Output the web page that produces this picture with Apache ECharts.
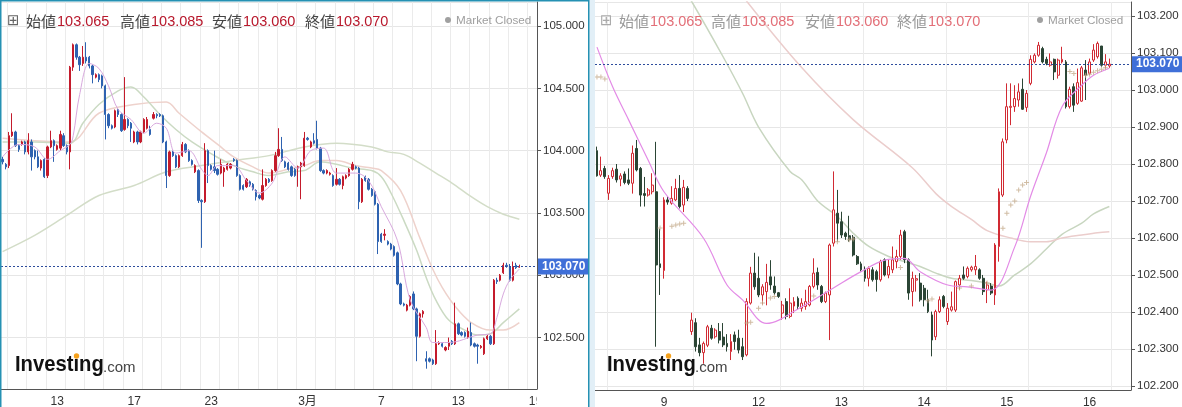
<!DOCTYPE html>
<html><head><meta charset="utf-8">
<script src="https://cdn.jsdelivr.net/npm/echarts/dist/echarts.min.js"></script>
<style>html,body{margin:0;padding:0;background:#fff}#c{width:1182px;height:407px}</style>
</head><body><div id="c"></div><script>
// ---------- DATA ----------
// candles: [open, close, low, high]
const leftCandles = [
[103.93,103.91,103.89,103.95],[103.89,103.87,103.85,103.90],[103.88,104.12,103.86,104.15],[104.12,104.15,104.11,104.30],
[104.15,104.04,104.03,104.16],[104.04,104.01,103.99,104.05],[104.05,104.07,104.04,104.08],[104.07,103.99,103.97,104.08],
[103.99,104.08,103.97,104.14],[104.07,103.95,103.84,104.09],[104.00,103.95,103.93,104.01],[103.95,103.87,103.86,104.00],
[103.86,103.92,103.84,103.93],[103.93,103.79,103.78,103.94],[103.80,104.03,103.78,104.04],[104.03,104.08,104.02,104.16],
[104.08,104.04,103.91,104.09],[104.01,104.04,104.00,104.05],[104.02,104.13,104.00,104.16],[104.12,104.04,104.03,104.14],
[104.04,103.99,103.97,104.05],[103.99,104.67,103.85,104.68],[104.67,104.85,104.64,104.86],[104.85,104.75,104.73,104.86],
[104.75,104.69,104.64,104.76],[104.70,104.75,104.68,104.84],[104.75,104.72,104.70,104.87],[104.75,104.68,104.66,104.76],
[104.68,104.61,104.54,104.69],[104.59,104.61,104.58,104.62],[104.61,104.57,104.55,104.62],[104.60,104.52,104.50,104.61],
[104.52,104.29,104.09,104.53],[104.29,104.20,104.18,104.30],[104.20,104.18,104.17,104.21],[104.19,104.32,104.18,104.33],
[104.33,104.29,104.27,104.34],[104.29,104.16,104.15,104.30],[104.17,104.25,104.16,104.59],[104.25,104.20,104.18,104.26],
[104.22,104.18,104.07,104.23],[104.07,104.15,104.06,104.16],[104.15,104.07,104.05,104.16],[104.07,104.15,104.06,104.16],
[104.15,104.25,104.14,104.26],[104.18,104.25,104.17,104.27],[104.17,104.13,104.12,104.20],[104.26,104.29,104.25,104.31],
[104.29,104.28,104.26,104.30],[104.29,104.28,104.27,104.30],[104.28,104.07,104.06,104.29],[104.07,103.80,103.70,104.08],
[103.80,103.99,103.79,104.00],[103.99,103.96,103.95,104.00],[103.96,103.87,103.86,103.97],[103.87,103.96,103.86,103.97],
[103.96,104.05,103.95,104.07],[104.05,103.99,103.98,104.06],[104.00,103.92,103.91,104.01],[103.92,103.89,103.88,103.93],
[103.83,103.88,103.82,103.89],[103.84,103.60,103.58,103.85],[103.60,103.59,103.22,103.61],[103.59,104.00,103.58,104.06],
[104.00,103.88,103.74,104.01],[103.88,103.85,103.84,103.89],[103.87,103.84,103.82,104.00],[103.85,103.81,103.80,103.86],
[103.82,103.89,103.81,103.93],[103.83,103.86,103.71,103.87],[103.85,103.89,103.84,103.90],[103.86,103.89,103.85,103.90],
[103.93,103.92,103.91,103.94],[103.92,103.80,103.79,103.93],[103.80,103.69,103.68,103.81],[103.72,103.69,103.68,103.73],
[103.71,103.77,103.70,103.78],[103.75,103.72,103.71,103.76],[103.73,103.69,103.68,103.74],[103.68,103.63,103.60,103.69],
[103.64,103.62,103.61,103.65],[103.61,103.72,103.60,103.85],[103.72,103.77,103.71,103.78],[103.77,103.75,103.74,103.78],
[103.76,103.84,103.75,103.85],[103.84,103.96,103.83,103.99],[103.96,104.01,103.95,104.18],[104.01,103.92,103.91,104.11],
[103.91,103.87,103.86,103.92],[103.90,103.85,103.84,103.91],[103.87,103.80,103.79,103.88],[103.85,103.80,103.79,103.86],
[103.86,103.87,103.71,103.88],[103.87,103.90,103.61,103.91],[103.88,104.10,103.87,104.15],[104.10,104.09,104.08,104.11],
[104.03,104.07,104.02,104.08],[104.08,104.06,104.05,104.14],[104.09,104.02,104.01,104.24],[104.02,103.84,103.83,104.03],
[103.84,103.82,103.81,103.85],[103.82,103.84,103.81,103.85],[103.81,103.82,103.80,103.83],[103.80,103.72,103.71,103.81],
[103.73,103.77,103.72,103.86],[103.77,103.73,103.72,103.78],[103.72,103.79,103.69,103.80],[103.78,103.80,103.77,103.81],
[103.80,103.85,103.79,103.86],[103.85,103.89,103.84,103.91],[103.87,103.86,103.85,103.88],[103.86,103.59,103.53,103.87],
[103.59,103.77,103.58,103.78],[103.79,103.76,103.75,103.80],[103.77,103.69,103.68,103.78],[103.69,103.64,103.63,103.70],
[103.67,103.57,103.56,103.68],[103.57,103.27,103.17,103.58],[103.33,103.27,103.26,103.34],[103.32,103.33,103.28,103.37],
[103.27,103.25,103.24,103.28],[103.25,103.21,103.20,103.26],[103.23,103.16,103.15,103.24],[103.18,102.93,102.92,103.19],
[102.93,102.77,102.76,102.94],[102.77,102.76,102.75,102.78],[102.72,102.76,102.71,102.77],[102.76,102.83,102.75,102.84],
[102.85,102.73,102.72,102.87],[102.73,102.51,102.31,102.74],[102.51,102.69,102.50,102.70],[102.69,102.71,102.66,102.72],
[102.33,102.31,102.25,102.39],[102.33,102.31,102.30,102.34],[102.32,102.29,102.28,102.33],[102.29,102.45,102.28,102.56],
[102.45,102.46,102.44,102.47],[102.45,102.43,102.42,102.46],[102.40,102.42,102.39,102.43],[102.43,102.46,102.40,102.50],
[102.47,102.45,102.44,102.48],[102.45,102.61,102.44,102.78],[102.61,102.53,102.52,102.62],[102.54,102.52,102.51,102.55],
[102.54,102.51,102.50,102.55],[102.50,102.55,102.49,102.58],[102.54,102.44,102.43,102.62],[102.45,102.43,102.42,102.46],
[102.44,102.43,102.29,102.45],[102.42,102.43,102.41,102.44],[102.37,102.49,102.36,102.50],[102.49,102.51,102.48,102.52],
[102.51,102.45,102.44,102.52],[102.45,102.96,102.44,102.97],[102.96,102.95,102.93,102.98],[102.96,103.00,102.95,103.01],
[103.02,103.08,103.01,103.10],[103.08,103.07,103.06,103.10],[103.07,102.96,102.95,103.09],[102.96,103.07,102.95,103.11],
[103.08,103.06,103.05,103.10],[103.065,103.070,103.060,103.085]
];
const rightCandles = [
[102.836,102.768,102.766,102.847],[102.770,102.782,102.765,102.820],[102.788,102.766,102.760,102.795],[102.721,102.761,102.703,102.770],
[102.766,102.782,102.760,102.790],[102.786,102.757,102.750,102.800],[102.759,102.768,102.740,102.775],[102.773,102.750,102.745,102.780],
[102.757,102.748,102.743,102.788],[102.748,102.829,102.720,102.850],[102.842,102.784,102.780,102.865],[102.788,102.716,102.685,102.792],
[102.720,102.715,102.685,102.765],[102.716,102.730,102.712,102.735],[102.725,102.743,102.718,102.775],[102.725,102.527,102.306,102.860],
[102.530,102.520,102.446,102.625],[102.512,102.703,102.490,102.710],[102.703,102.697,102.690,102.712],[102.694,102.707,102.690,102.740],
[102.703,102.734,102.700,102.760],[102.734,102.685,102.680,102.770],[102.689,102.737,102.670,102.757],[102.734,102.707,102.700,102.740],
[102.347,102.378,102.338,102.398],[102.371,102.306,102.293,102.383],[102.311,102.290,102.280,102.330],[102.290,102.315,102.260,102.320],
[102.310,102.360,102.305,102.365],[102.356,102.329,102.325,102.365],[102.333,102.351,102.328,102.356],[102.347,102.324,102.315,102.370],
[102.332,102.311,102.305,102.370],[102.315,102.306,102.293,102.340],[102.293,102.320,102.270,102.340],[102.338,102.320,102.298,102.347],
[102.329,102.297,102.288,102.352],[102.306,102.279,102.270,102.330],[102.284,102.428,102.280,102.437],[102.424,102.505,102.420,102.522],
[102.505,102.468,102.460,102.560],[102.491,102.446,102.440,102.550],[102.446,102.468,102.420,102.475],[102.455,102.480,102.418,102.530],
[102.495,102.473,102.460,102.540],[102.470,102.452,102.446,102.496],[102.452,102.442,102.438,102.454],[102.397,102.419,102.379,102.430],
[102.428,102.388,102.380,102.437],[102.388,102.424,102.383,102.464],[102.416,102.428,102.397,102.440],[102.437,102.415,102.406,102.442],
[102.410,102.424,102.401,102.437],[102.415,102.428,102.406,102.460],[102.419,102.469,102.415,102.473],[102.469,102.505,102.464,102.545],
[102.507,102.473,102.460,102.520],[102.469,102.428,102.424,102.473],[102.428,102.451,102.424,102.455],[102.446,102.581,102.324,102.585],
[102.586,102.676,102.577,102.780],[102.667,102.640,102.590,102.730],[102.644,102.608,102.600,102.671],[102.613,102.604,102.595,102.617],
[102.606,102.595,102.590,102.660],[102.602,102.554,102.550,102.608],[102.550,102.530,102.527,102.554],[102.530,102.514,102.509,102.536],
[102.515,102.491,102.482,102.523],[102.491,102.518,102.469,102.523],[102.514,102.487,102.482,102.521],[102.509,102.488,102.455,102.514],
[102.487,102.536,102.482,102.541],[102.541,102.500,102.496,102.545],[102.500,102.523,102.491,102.541],[102.514,102.541,102.505,102.577],
[102.536,102.550,102.518,102.568],[102.550,102.608,102.541,102.622],[102.617,102.541,102.532,102.622],[102.541,102.451,102.433,102.545],
[102.455,102.491,102.415,102.509],[102.486,102.490,102.455,102.500],[102.478,102.433,102.428,102.505],[102.464,102.433,102.415,102.473],
[102.433,102.401,102.397,102.460],[102.392,102.324,102.280,102.401],[102.333,102.401,102.324,102.406],[102.401,102.433,102.397,102.442],
[102.442,102.415,102.410,102.446],[102.374,102.410,102.365,102.424],[102.405,102.414,102.401,102.455],[102.405,102.482,102.400,102.485],
[102.473,102.491,102.460,102.500],[102.500,102.491,102.487,102.523],[102.496,102.518,102.491,102.523],[102.514,102.521,102.509,102.525],
[102.514,102.523,102.500,102.554],[102.514,102.491,102.487,102.518],[102.491,102.455,102.446,102.500],[102.460,102.473,102.424,102.482],
[102.470,102.451,102.446,102.478],[102.446,102.581,102.419,102.586],[102.577,102.725,102.536,102.734],[102.716,102.860,102.711,102.869],
[102.865,102.955,102.856,103.018],[102.953,102.956,102.905,103.018],[102.955,102.977,102.941,103.013],[102.973,102.995,102.955,103.018],
[103.002,102.948,102.946,103.031],[102.953,102.991,102.941,103.000],[103.018,103.083,103.013,103.094],[103.076,103.094,103.072,103.099],
[103.094,103.121,103.090,103.130],[103.112,103.076,103.072,103.117],[103.083,103.072,103.067,103.090],[103.067,103.076,103.063,103.099],
[103.083,103.049,103.027,103.085],[103.040,103.081,103.031,103.085],[103.076,103.083,103.072,103.117],[103.076,102.955,102.950,103.081],
[102.955,103.002,102.950,103.009],[103.009,102.959,102.941,103.018],[102.964,103.020,102.960,103.058],[102.970,103.060,102.968,103.065],
[103.054,103.040,102.973,103.081],[103.045,103.076,103.040,103.085],[103.081,103.108,103.076,103.124],[103.090,103.126,103.085,103.131],
[103.119,103.067,103.063,103.119],[103.067,103.076,103.058,103.097],[103.065,103.070,103.060,103.085]
];
// moving-average style lines: [categoryIndex, value]
const leftMaShort = [[0,103.95],[5,104.05],[10,104.03],[14,103.93],[18,104.0],[21,104.05],[22,104.12],[24,104.45],[27,104.70],[30,104.66],[33,104.52],[36,104.33],[40,104.25],[44,104.14],[48,104.22],[51,104.18],[54,103.98],[58,104.0],[62,103.85],[64,103.80],[67,103.88],[72,103.88],[76,103.76],[80,103.66],[84,103.74],[88,103.95],[92,103.86],[96,104.0],[100,104.02],[104,103.82],[110,103.82],[114,103.76],[118,103.55],[123,103.28],[127,102.80],[132,102.58],[134,102.46],[139,102.46],[148,102.52],[152,102.53],[154,102.66],[156,102.85],[158,102.96],[161,103.05]];
const leftMaMid = [[0,104.07],[10,104.07],[21,104.06],[25,104.22],[30,104.37],[36,104.48],[40,104.51],[44,104.43],[49,104.29],[54,104.17],[59,104.07],[66,103.96],[72,103.88],[78,103.83],[83,103.80],[89,103.83],[94,103.84],[99,103.91],[104,103.89],[109,103.86],[115,103.84],[118,103.79],[121,103.66],[125,103.44],[129,103.20],[132,102.98],[135,102.80],[139,102.64],[144,102.56],[148,102.52],[152,102.53],[156,102.62],[161,102.73]];
const leftMaSlow = [[0,104.10],[10,104.08],[21,104.07],[30,104.30],[41,104.37],[51,104.39],[55,104.30],[62,104.15],[67,104.05],[72,103.95],[78,103.87],[83,103.82],[89,103.85],[94,103.88],[99,103.92],[104,103.92],[110,103.88],[115,103.86],[118,103.84],[124,103.68],[130,103.30],[134,103.05],[137,102.90],[141,102.75],[146,102.62],[152,102.56],[156,102.56],[161,102.62]];
const leftMaLong = [[0,103.19],[10,103.32],[20,103.48],[30,103.64],[41,103.72],[51,103.83],[62,103.88],[72,103.92],[83,103.96],[94,104.03],[104,104.06],[115,104.03],[120,103.99],[125,103.97],[130,103.90],[135,103.82],[140,103.74],[146,103.63],[151,103.55],[156,103.49],[161,103.45]];
const rightMaShort = [[0,103.116],[4,103.008],[8,102.92],[13,102.81],[17,102.725],[27,102.60],[33,102.473],[37,102.432],[43,102.369],[52,102.414],[60,102.465],[67,102.509],[73,102.54],[78,102.545],[82,102.509],[89,102.473],[94,102.468],[100,102.459],[106,102.576],[110,102.712],[114,102.829],[118,102.955],[123,103.013],[126,103.04],[130,103.059]];
const rightMaMid = [[0,103.67],[24,103.24],[32,103.09],[37,102.99],[41,102.90],[49,102.78],[52,102.757],[56,102.70],[61,102.658],[65,102.613],[69,102.577],[74,102.55],[78,102.536],[82,102.523],[86,102.505],[90,102.491],[95,102.485],[99,102.478],[102,102.47],[106,102.50],[110,102.53],[114,102.57],[118,102.61],[123,102.64],[126,102.665],[130,102.685]];
const rightMaSlow = [[0,103.76],[38,103.24],[52,103.06],[65,102.92],[80,102.79],[86,102.72],[90,102.685],[95,102.65],[99,102.62],[105,102.60],[110,102.59],[114,102.59],[118,102.60],[123,102.608],[127,102.614],[130,102.617]];
const rightSar = [[0,103.035],[1,103.035],[2,103.03],[16,102.627],[19,102.632],[20,102.635],[21,102.638],[22,102.64],[38,102.37],[39,102.372],[41,102.41],[42,102.424],[44,102.438],[45,102.442],[55,102.443],[61,102.59],[64,102.595],[65,102.597],[77,102.52],[84,102.43],[85,102.435],[92,102.465],[95,102.47],[99,102.478],[103,102.626],[104,102.667],[105,102.689],[106,102.70],[107,102.73],[108,102.743],[109,102.75],[120,103.05],[121,103.045],[124,103.04],[125,103.043],[126,103.048],[127,103.052],[128,103.056],[129,103.06]];
// axes
const leftCategoryCount = 167, rightCategoryCount = 136;
const leftTicks = [[17,'13'],[41,'17'],[65,'23'],[95,'3月'],[118,'7'],[142,'13'],[166,'19']];
const rightTicks = [[17,'9'],[41,'12'],[62,'13'],[83,'14'],[104,'15'],[125,'16']];
const leftDayLines = [2,8,14,20,26,32,38,44,50,56,62,68,74,80,86,92,98,104,110,116,122,128,134,140,146,152,158,164];
const rightDayLines = [3,25,47,68,89,110,131];
const headerLabels = ['始値','高値','安値','終値'];
const statusText = 'Market Closed';
const brandName = 'Investing', brandSuffix = '.com';

// ---------- CHART ----------
const FF = '"Liberation Sans", "Noto Sans CJK JP", sans-serif';
const last = leftCandles[leftCandles.length - 1];
const headerValues = [last[0], last[3], last[2], last[1]].map(v => v.toFixed(3));
const lastClose = last[1];
const cats = n => Array.from({length: n}, (_, i) => String(i));
const lMap = Object.fromEntries(leftTicks), rMap = Object.fromEntries(rightTicks);

function xAxisCfg(gi, n, map, lines) {
  return {type:'category', gridIndex:gi, data:cats(n), boundaryGap:true,
    axisLine:{lineStyle:{color:'#555', width:1}}, axisTick:{show:false},
    axisLabel:{interval:0, formatter:(v)=>map[+v]||'', margin:7, color:'#333', fontSize:12, fontFamily:FF},
    splitLine:{show:true, interval:(i)=>lines.includes(i), lineStyle:{color:'#ebebeb', width:1}}};
}
function yAxisCfg(gi, min, max, sn) {
  return {type:'value', gridIndex:gi, position:'right', min, max, splitNumber:sn, scale:true,
    axisLine:{show:true, lineStyle:{color:'#555', width:1}},
    axisTick:{show:true, length:4, lineStyle:{color:'#555'}},
    axisLabel:{formatter:v=>v.toFixed(3), showMinLabel:false, showMaxLabel:false, margin:6, color:'#333', fontSize:11.5, fontFamily:FF},
    splitLine:{show:true, lineStyle:{color:'#e6e6e6', width:1}}};
}
function markLineCfg() {
  return {silent:true, symbol:['none','none'], animation:false, data:[{yAxis:lastClose}],
    lineStyle:{color:'#2d4c9c', type:[2,2], width:1},
    label:{show:true, position:'end', distance:1, formatter:p=>(+p.value).toFixed(3), backgroundColor:'#3f6fd8',
      color:'#fff', fontWeight:'bold', fontSize:12, padding:[2,4,2,4], fontFamily:FF}};
}
function line(data, i, color, width, z) {
  return {type:'line', xAxisIndex:i, yAxisIndex:i, data, symbol:'none', showSymbol:false, smooth:0.35,
    lineStyle:{color, width}, z, silent:true, clip:true};
}
function header(iconX, groupX, labelColor, valueColor, dotX, iconColor) {
  const els = [{type:'text', x:iconX, y:21.5, z:100, style:{text:'⊞', fill:iconColor, font:'15px "DejaVu Sans"', verticalAlign:'middle'}}];
  groupX.forEach((gx, k) => {
    els.push({type:'text', x:gx, y:21.5, z:100, style:{text:headerLabels[k], fill:labelColor, font:'15px "Noto Sans CJK JP"', verticalAlign:'middle'}});
    els.push({type:'text', x:gx+31, y:21.5, z:100, style:{text:headerValues[k], fill:valueColor, font:'14.5px "Liberation Sans"', verticalAlign:'middle'}});
  });
  els.push({type:'circle', z:100, shape:{cx:dotX, cy:20, r:3}, style:{fill:'#a0a0a0'}});
  els.push({type:'text', x:dotX+8, y:20.5, z:100, style:{text:statusText, fill:'#9e9e9e', font:'11.7px "Liberation Sans"', verticalAlign:'middle'}});
  return els;
}
function logo(x) {
  return [
    {type:'group', x:x, y:0, scaleX:0.92, z:100, children:[
      {type:'text', x:0, y:365, z:100, style:{text:brandName, fill:'#111', font:'bold 22px "Liberation Sans"', verticalAlign:'middle'}}]},
    {type:'text', x:x+88, y:367.5, z:100, style:{text:brandSuffix, fill:'#444', font:'15px "Liberation Sans"', verticalAlign:'middle'}},
    {type:'circle', z:101, shape:{cx:x+61.5, cy:356, r:2.7}, style:{fill:'#f5a11c'}}
  ];
}

const chart = echarts.init(document.getElementById('c'), null, {renderer:'canvas'});
chart.setOption({
  animation:false,
  backgroundColor:'#ffffff',
  textStyle:{fontFamily:FF},
  grid:[
    {left:1, top:2, width:536, height:387, containLabel:false, outerBoundsMode:'none'},
    {left:595, top:2, width:536, height:388, containLabel:false, outerBoundsMode:'none'}
  ],
  xAxis:[xAxisCfg(0, leftCategoryCount, lMap, leftDayLines), xAxisCfg(1, rightCategoryCount, rMap, rightDayLines)],
  yAxis:[yAxisCfg(0, 102.087, 105.193, 6), yAxisCfg(1, 102.189, 103.238, 10)],
  series:[
    line(leftMaLong, 0, '#d3ddc8', 1.5, 1),
    line(leftMaSlow, 0, '#eed2cc', 1.5, 1),
    line(leftMaMid, 0, '#cbdac3', 1.5, 1),
    {type:'candlestick', xAxisIndex:0, yAxisIndex:0, data:leftCandles, barWidth:1.8, z:3,
      itemStyle:{color:'#c41b2c', color0:'#2e62b0', borderColor:'#c41b2c', borderColor0:'#2e62b0', borderWidth:1},
      markLine:markLineCfg()},
    line(leftMaShort, 0, '#d8a9de', 1, 4),
    line(rightMaMid, 1, '#c8d6c0', 1.5, 1),
    line(rightMaSlow, 1, '#ebcdcc', 1.5, 1),
    {type:'candlestick', xAxisIndex:1, yAxisIndex:1, data:rightCandles, barWidth:2.4, z:3,
      itemStyle:{color:'#ffffff', color0:'#2b4535', borderColor:'#d12a33', borderColor0:'#2b4535', borderWidth:1},
      markLine:markLineCfg()},
    line(rightMaShort, 1, '#e38be6', 1.2, 4),
    {type:'scatter', xAxisIndex:1, yAxisIndex:1, data:rightSar, silent:true, z:4,
      symbol:'path://M2,0L3,0L3,2L5,2L5,3L3,3L3,5L2,5L2,3L0,3L0,2L2,2Z', symbolSize:5, itemStyle:{color:'#c4ab8c'}}
  ],
  graphic:[
    {type:'rect', z:100, shape:{x:589, y:0, width:6, height:407}, style:{fill:'#e2eff7'}},
    {type:'rect', z:100, silent:true, shape:{x:0.75, y:0.75, width:588, height:410}, style:{fill:'none', stroke:'#2591b3', lineWidth:1.5}},
    {type:'rect', z:99, shape:{x:536.5, y:391, width:8, height:16}, style:{fill:'#fff'}},
    {type:'rect', z:99, shape:{x:1133, y:389.5, width:48, height:17.5}, style:{fill:'#fff'}},
    ...header(7, [26,120,212,305], '#444', '#b8182c', 448, '#666'),
    ...header(600, [619,711,805,897], '#999', '#e36f78', 1040, '#aaa'),
    ...logo(15),
    ...logo(607)
  ]
});
</script></body></html>
